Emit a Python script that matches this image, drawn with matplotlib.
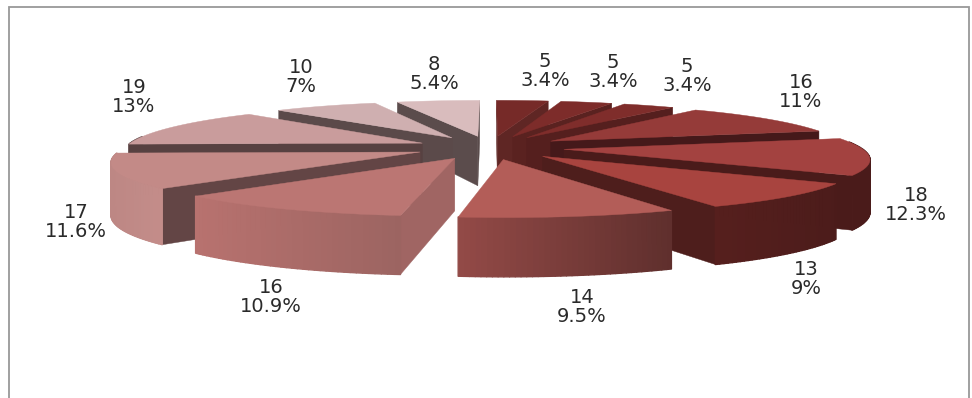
import numpy as np
import matplotlib
matplotlib.use("Agg")
import matplotlib.pyplot as plt
from matplotlib.patches import Polygon
from matplotlib.colors import to_rgb

values = [5, 5, 5, 16, 18, 13, 14, 16, 17, 19, 10, 8]
percents = ["3.4%", "3.4%", "3.4%", "11%", "12.3%", "9%", "9.5%", "10.9%", "11.6%", "13%", "7%", "5.4%"]

top_colors = ["#762a28", "#7d2c2a", "#7f2d2b", "#953b39", "#a34240", "#a8443f",
              "#b35d58", "#bb7673", "#c38a87", "#c99c9c", "#cfafb0", "#d9bcbd"]
wall_colors = ["#5f2624", "#5a2220", "#551f1e", "#45191a", "#4a1b1a", "#4e1e1c",
               "#6b3532", "#a06563", "#634545", "#574141", "#5b4a4a", "#5b4c4c"]
rim_left = ["#5f2624", "#5a2220", "#551f1e", "#45191a", "#4a1b1a", "#561f1d",
            "#934a47", "#b8726f", "#bd8784", "#574141", "#5b4a4a", "#5b4c4c"]
rim_right = ["#5f2624", "#5a2220", "#551f1e", "#45191a", "#4a1b1a", "#4c1c1b",
             "#5f2f2d", "#9c6461", "#c48d8a", "#574141", "#5b4a4a", "#5b4c4c"]
label_xy = [(545, 71), (613, 72), (687, 76), (801, 92), (916, 205), (806, 279),
            (582, 307), (271, 297), (76, 222), (134, 97), (301, 77), (434, 74)]

CX, CY, R, EXPLODE = 490, 147.5, 297, 0.25
A, B = 47, 7.4
KX, KX2 = 0.175, 0.02
H, KH = 51, 0.13


def project(x, y, lift=0.0):
    """World disc coordinates to pixel position, with perspective."""
    sx = CX + R * x * (1 - KX * y + KX2 * y * y)
    sy = CY - y * (A - B * y) + lift * H * (1 - KH * y)
    return sx, sy


def blend(c0, c1, t):
    c0, c1 = np.array(to_rgb(c0)), np.array(to_rgb(c1))
    return tuple(c0 + (c1 - c0) * t)


def area(pts):
    p = np.array(pts)
    x, y = p[:, 0], p[:, 1]
    return 0.5 * np.sum(x * np.roll(y, -1) - np.roll(x, -1) * y)


fig = plt.figure(figsize=(9.72, 3.98), dpi=100, facecolor="white")
ax = fig.add_axes([0, 0, 1, 1])
ax.set_xlim(0, 972)
ax.set_ylim(398, 0)
ax.axis("off")

ax.plot([9, 9, 969, 969], [398, 7, 7, 398], color="#999999", lw=1.3, solid_joinstyle="miter")

edges = np.cumsum([0] + values) / sum(values) * 2 * np.pi
slices = []
for i in range(len(values)):
    t0, t1 = edges[i], edges[i + 1]
    mid = (t0 + t1) / 2
    slices.append((np.cos(mid), i, t0, t1, mid))

for _, i, t0, t1, mid in sorted(slices, key=lambda s: -s[0]):
    base_z = 3 + (1 - _) * 5
    ox, oy = EXPLODE * np.sin(mid), EXPLODE * np.cos(mid)
    th = np.linspace(t0, t1, 40)
    xs, ys = ox + np.sin(th), oy + np.cos(th)

    # radial walls, only those that face the viewer
    for t, sign in ((t0, -1), (t1, 1)):
        px, py = ox + np.sin(t), oy + np.cos(t)
        quad = [project(ox, oy), project(px, py), project(px, py, 1), project(ox, oy, 1)]
        if area(quad) * sign > 0:
            ax.add_patch(Polygon(quad, closed=True, fc=wall_colors[i], ec=wall_colors[i], lw=0.3, zorder=base_z))

    # outer rim, shaded left to right
    top_pts = [project(x, y) for x, y in zip(xs, ys)]
    low_pts = [project(x, y, 1) for x, y in zip(xs, ys)]
    sx = np.array([p[0] for p in top_pts])
    lo, hi = sx.min(), sx.max()
    for j in range(len(th) - 1):
        quad = [top_pts[j], top_pts[j + 1], low_pts[j + 1], low_pts[j]]
        if np.cos((th[j] + th[j + 1]) / 2) > 0.15:
            continue
        col = blend(rim_left[i], rim_right[i], ((sx[j] + sx[j + 1]) / 2 - lo) / max(hi - lo, 1))
        ax.add_patch(Polygon(quad, closed=True, fc=col, ec=col, lw=1.0, joinstyle="round", zorder=base_z + 0.1))

    # top face
    face = [project(ox, oy)] + top_pts
    ax.add_patch(Polygon(face, closed=True, fc=top_colors[i], ec=top_colors[i], lw=0.3, zorder=base_z + 0.2))

for v, pct, (x, y) in zip(values, percents, label_xy):
    ax.text(x, y, f"{v}\n{pct}", ha="center", va="center", fontsize=14, color="#2a2a2a",
            family="DejaVu Sans", linespacing=1.02, zorder=50)

fig.savefig("out.png", dpi=100, facecolor="white")
